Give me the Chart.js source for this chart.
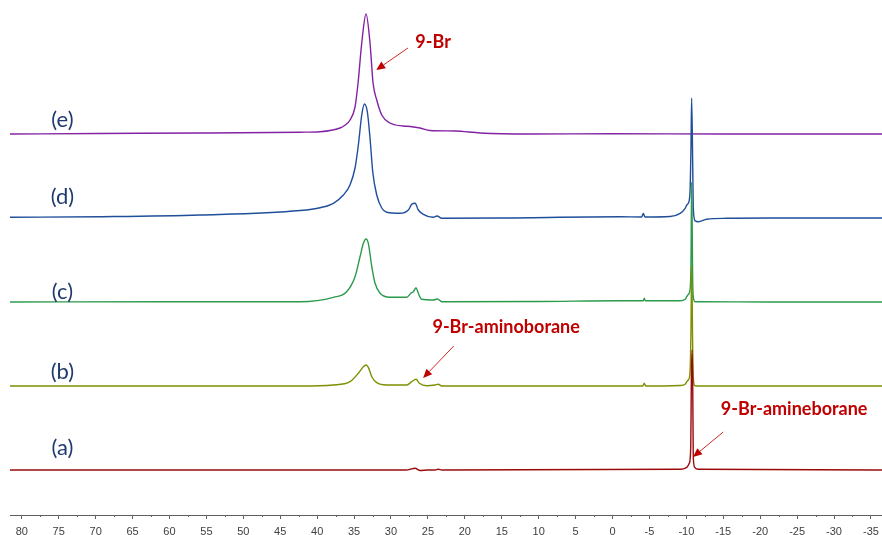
<!DOCTYPE html>
<html>
<head>
<meta charset="utf-8">
<script src="https://cdn.jsdelivr.net/npm/chart.js@4.4.1/dist/chart.umd.min.js"></script>
<style>
  html, body { margin: 0; padding: 0; background: #fff; }
  #wrap { width: 882px; height: 535px; position: relative; }
</style>
</head>
<body>
<div id="wrap"><canvas id="nmrChart"></canvas></div>
<script>
// chemical shift (ppm) and intensity, baseline = 0
const ppmA = [81.6, 30, 27.9, 27.42, 26.74, 26.07, 25, 24.04, 23.59, 23.1, -9.16, -10.06, -10.4, -10.6, -10.68, -10.77, -10.86, -10.94, -11.13, -11.62, -36.5];
const intA = [0, 0, 0, 0.7, 1.7, -0.5, 0, 0, 0.7, 0, 0.7, 2.7, 6.7, 23.3, 90, 120, 90, 13.3, 2.7, 0.7, 0];

const ppmB = [81.6, 42.3, 37.8, 35.55, 34.42, 33.74, 33.38, 33.07, 32.6, 31.93, 30.58, 27.87, 27.19, 26.61, 26.16, 25.16, 24.04, 23.59, 23.13, -4.1, -4.3, -4.5, -9.16, -9.84, -10.06, -10.26, -10.49, -10.63, -10.72, -10.86, -10.94, -11.17, -12, -36.5];
const intB = [0, 0, 1, 4.3, 12.7, 19.3, 21, 18.7, 9.3, 3.3, 1, 1, 4.3, 6.7, 2.7, 0.3, 1, 1.7, 0, 0, 2.7, 0, 0.5, 1.7, 4.3, 6, 12.7, 56, 120, 39, 9.3, 0.3, 0, 0];

const ppmC = [81.6, 60, 42.3, 37.8, 36.0, 34.87, 34.2, 33.74, 33.38, 33.07, 32.6, 32.16, 31.48, 30.13, 27.87, 27.32, 26.97, 26.61, 26.3, 25.84, 24.27, 23.72, 23.13, 10, -1, -4.17, -4.3, -4.44, -9.16, -9.84, -10.06, -10.2, -10.49, -10.63, -10.72, -10.86, -10.94, -11.17, -11.85, -21.3, -36.5];
const intC = [0, 0.2, 0.3, 4.7, 10.3, 25.3, 45, 58.7, 63, 58.7, 35.3, 18.7, 8.7, 4.7, 4.7, 8.7, 10.3, 14.3, 8.7, 2.7, 2, 3, 0.3, 0.5, 1.3, 1.3, 3.7, 1.3, 1.3, 2.7, 5.3, 7, 12, 38.7, 120, 22, 5.3, 0.3, 0.3, 0, 0];

const ppmD = [81.6, 69.4, 55.9, 42.3, 39.6, 37.8, 36.45, 35.55, 34.87, 34.42, 33.96, 33.6, 33.2, 32.84, 32.47, 31.93, 31.25, 30.58, 28.78, 27.65, 27.19, 26.74, 26.3, 25.62, 24.3, 23.76, 23.13, 15.2, -1, -3.95, -4.17, -4.4, -7.8, -9.16, -9.84, -10.06, -10.26, -10.49, -10.63, -10.72, -10.86, -10.94, -11.17, -11.62, -12.76, -15.46, -21.3, -36.5];
const intD = [0.7, 1.3, 3, 7.5, 10.3, 14.7, 23, 33, 50, 73, 103, 114, 106, 80, 46, 23, 10, 5.7, 4.7, 8, 13.7, 14.7, 8, 3.7, 0.7, 2, -0.3, 0, 1.2, 1, 4.5, 1, 1.5, 4.7, 9.7, 13, 14.7, 25, 71, 120, 55, 11, -2.7, -3.7, -1.3, -0.3, 0, 0];

const ppmE = [81.6, 69.4, 55.9, 42.3, 39.6, 36.9, 36.2, 35.55, 34.87, 34.46, 33.96, 33.38, 32.84, 32.43, 31.93, 31.25, 30.13, 28.37, 27.4, 26.07, 24.72, 21.3, 17.95, 11.2, 0, -15, -36.5];
const intE = [0, 0.5, 1, 1.8, 2.3, 6, 9, 14, 27, 51, 91, 120, 91, 51, 34, 19, 11, 8, 7.5, 6, 3.5, 3, 1, 0, 0.3, 0, 0];

const traceNames = ['(a)', '(b)', '(c)', '(d)', '(e)'];
const xTicks = [80, 75, 70, 65, 60, 55, 50, 45, 40, 35, 30, 25, 20, 15, 10, 5, 0, -5, -10, -15, -20, -25, -30, -35];

// stacking offsets and looks
const offsets = [45, 129, 213, 297, 381];
const colors = ['#9A0A0A', '#7E8F00', '#2B9A4B', '#1F4E9A', '#8322A3'];
const labelY = [67, 143, 223, 318, 395];
const notes = [
  { text: '9-Br', x: 24.3, y: 473, from: [27.7, 467], to: [32.0, 445] },
  { text: '9-Br-aminoborane', x: 14.4, y: 188, from: [21.5, 169], to: [25.65, 137] },
  { text: '9-Br-amineborane', x: -24.6, y: 106, from: [-15.0, 83], to: [-10.9, 58] }
];

const traces = [[ppmA, intA], [ppmB, intB], [ppmC, intC], [ppmD, intD], [ppmE, intE]];

const datasets = traces.map((t, i) => ({
  label: traceNames[i],
  data: t[0].map((p, j) => ({ x: p, y: t[1][j] + offsets[i] })),
  borderColor: colors[i],
  borderWidth: 1.4,
  pointRadius: 0,
  showLine: true,
  fill: false,
  cubicInterpolationMode: 'monotone'
}));

const extras = {
  id: 'extras',
  afterDraw(chart) {
    const { ctx, scales: { x, y }, chartArea } = chart;
    ctx.save();
    // minor ticks
    ctx.strokeStyle = '#606060';
    ctx.lineWidth = 1;
    xTicks.forEach(v => {
      const m = v + 2.5;
      if (m > x.max || m < x.min) return;
      const px = Math.round(x.getPixelForValue(m)) + 0.5;
      ctx.beginPath();
      ctx.moveTo(px, chartArea.bottom);
      ctx.lineTo(px, chartArea.bottom + 2);
      ctx.stroke();
    });
    // trace labels
    ctx.fillStyle = '#1F3A6E';
    ctx.font = '22px Lato';
    ctx.textAlign = 'center';
    ctx.textBaseline = 'middle';
    traceNames.forEach((n, i) => {
      ctx.fillText(n, x.getPixelForValue(74.5), y.getPixelForValue(labelY[i]));
    });
    // annotations with arrows
    notes.forEach(n => {
      ctx.fillStyle = '#C00000';
      ctx.font = 'bold 18px Lato';
      ctx.fillText(n.text, x.getPixelForValue(n.x), y.getPixelForValue(n.y));
      const x0 = x.getPixelForValue(n.from[0]), y0 = y.getPixelForValue(n.from[1]);
      const x1 = x.getPixelForValue(n.to[0]), y1 = y.getPixelForValue(n.to[1]);
      const ang = Math.atan2(y1 - y0, x1 - x0);
      const hl = 9, hw = 4;
      ctx.strokeStyle = '#D02828';
      ctx.lineWidth = 1;
      ctx.beginPath();
      ctx.moveTo(x0, y0);
      ctx.lineTo(x1 - hl * Math.cos(ang), y1 - hl * Math.sin(ang));
      ctx.stroke();
      ctx.beginPath();
      ctx.moveTo(x1, y1);
      ctx.lineTo(x1 - hl * Math.cos(ang) + hw * Math.sin(ang), y1 - hl * Math.sin(ang) - hw * Math.cos(ang));
      ctx.lineTo(x1 - hl * Math.cos(ang) - hw * Math.sin(ang), y1 - hl * Math.sin(ang) + hw * Math.cos(ang));
      ctx.closePath();
      ctx.fill();
    });
    ctx.restore();
  }
};

new Chart(document.getElementById('nmrChart').getContext('2d'), {
  type: 'scatter',
  data: { datasets },
  options: {
    responsive: true,
    maintainAspectRatio: false,
    animation: false,
    layout: { padding: { left: 10, right: 0, top: 5, bottom: 0 } },
    plugins: { legend: { display: false }, tooltip: { enabled: false } },
    scales: {
      x: {
        type: 'linear',
        reverse: true,
        min: -36.5,
        max: 81.6,
        afterBuildTicks: s => { s.ticks = xTicks.map(v => ({ value: v })); },
        afterFit: s => { s.height = 20; s.paddingLeft = 0; s.paddingRight = 0; },
        ticks: {
          color: '#404040',
          font: { family: 'Liberation Sans', size: 11 },
          padding: 6,
          maxRotation: 0,
          autoSkip: false
        },
        grid: { drawOnChartArea: false, drawTicks: true, tickLength: 4, color: '#606060' },
        border: { display: true, color: '#606060', width: 1 }
      },
      y: { display: false, min: 0, max: 510 }
    }
  },
  plugins: [extras]
});
</script>
</body>
</html>
